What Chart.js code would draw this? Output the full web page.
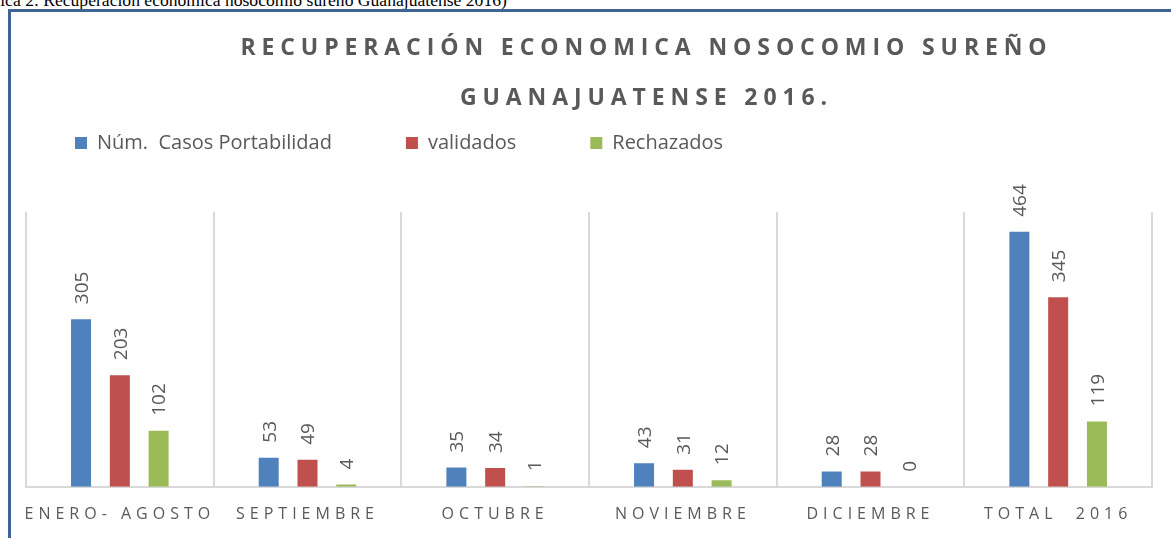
<!DOCTYPE html>
<html><head><meta charset="utf-8">
<script src="https://cdn.jsdelivr.net/npm/chart.js@4.4.1/dist/chart.umd.min.js"></script>
<style>
html,body{margin:0;padding:0;background:#fff;width:1171px;height:538px;overflow:hidden;position:relative}
#caption{position:absolute;left:-32px;top:-10px;font-family:"Liberation Serif";font-size:17.6px;line-height:20px;white-space:nowrap;color:#000}
#frame{position:absolute;left:8px;top:9px;width:1300px;height:600px;border-left:3px solid #3f6392;border-top:3px solid #3f6392}
#c{position:absolute;left:0;top:0}
</style></head><body>
<div id="caption">Gráfica 2: Recuperación económica nosocomio sureño Guanajuatense 2016)</div>
<div id="frame"></div>
<canvas id="c" width="1171" height="538"></canvas>
<script>
const categories = ['ENERO- AGOSTO','SEPTIEMBRE','OCTUBRE','NOVIEMBRE','DICIEMBRE','TOTAL  2016'];
const casosPortabilidad = [305,53,35,43,28,464];
const validados = [203,49,34,31,28,345];
const rechazados = [102,4,1,12,0,119];
const seriesNames = ['Núm.  Casos Portabilidad','validados','Rechazados'];
const seriesColors = ['#4f81bd','#c0504d','#9bbb59'];
const titleLines = ['RECUPERACIÓN ECONOMICA NOSOCOMIO SUREÑO','GUANAJUATENSE 2016.'];

const FONT = '"Open Sans"';
const GRAY = '#595959';

const spacingPlugin = {
  id: 'spacingAndLabels',
  beforeDraw(chart) {
    chart.ctx.letterSpacing = '0px';
    const tb = chart.titleBlock;
    if (tb && !tb.__ls) {
      const orig = tb.draw;
      tb.draw = function (...a) { const c = this.ctx; c.save(); c.letterSpacing = '5.9px'; orig.apply(this, a); c.restore(); };
      tb.__ls = true;
    }
    const xs = chart.scales.x;
    if (xs && !xs.__ls) {
      const o = xs.drawLabels;
      xs.drawLabels = function (...a) { const c = this.ctx; c.save(); c.letterSpacing = '5px'; o.apply(this, a); c.restore(); };
      xs.__ls = true;
    }
  },
  afterDatasetsDraw(chart) {
    const ctx = chart.ctx;
    ctx.save();
    ctx.letterSpacing = '0px';
    ctx.font = '19px ' + FONT;
    ctx.fillStyle = GRAY;
    ctx.textAlign = 'left';
    ctx.textBaseline = 'alphabetic';
    chart.data.datasets.forEach((ds, i) => {
      const meta = chart.getDatasetMeta(i);
      meta.data.forEach((bar, j) => {
        ctx.save();
        ctx.translate(bar.x, bar.y - 15);
        ctx.rotate(-Math.PI / 2);
        ctx.fillText(String(ds.data[j]), 0, 6.8);
        ctx.restore();
      });
    });
    ctx.restore();
  }
};

const seriesData = [casosPortabilidad, validados, rechazados];

new Chart(document.getElementById('c'), {
  type: 'bar',
  data: {
    labels: categories,
    datasets: seriesNames.map((n, i) => ({
      label: n,
      data: seriesData[i],
      backgroundColor: seriesColors[i],
      borderWidth: 0,
      categoryPercentage: 0.62,
      barPercentage: 0.516
    }))
  },
  options: {
    responsive: false,
    animation: false,
    layout: { padding: { left: 1, right: -121, top: 0, bottom: -4 } },
    plugins: {
      title: {
        display: true, text: titleLines, color: GRAY,
        font: { family: FONT, size: 23, weight: 'bold', lineHeight: '50px' },
        padding: { top: 23, bottom: -64 }
      },
      legend: {
        display: true, position: 'top', align: 'start',
        labels: { boxWidth: 12, boxHeight: 12, padding: 74, color: GRAY, font: { family: FONT, size: 20 } }
      },
      tooltip: { enabled: false }
    },
    scales: {
      x: {
        grid: { display: true, color: '#d9d9d9', lineWidth: 2, drawTicks: false, offset: true },
        border: { display: true, color: '#d9d9d9', width: 2 },
        ticks: { color: GRAY, font: { family: FONT, size: 16 }, padding: 18, maxRotation: 0, autoSkip: false }
      },
      x2: {
        type: 'category', position: 'top', labels: categories, display: true,
        grid: { display: false }, border: { display: false }, ticks: { display: false },
        afterFit(s) { s.height = 49; }
      },
      y: {
        min: 0, max: 500, display: true,
        grid: { display: false }, border: { display: false }, ticks: { display: false },
        afterFit(s) { s.width = 25; }
      },
      y2: {
        type: 'linear', position: 'right', display: true,
        grid: { display: false }, border: { display: false }, ticks: { display: false },
        afterFit(s) { s.width = 140; }
      }
    }
  },
  plugins: [spacingPlugin]
});
</script>
</body></html>
